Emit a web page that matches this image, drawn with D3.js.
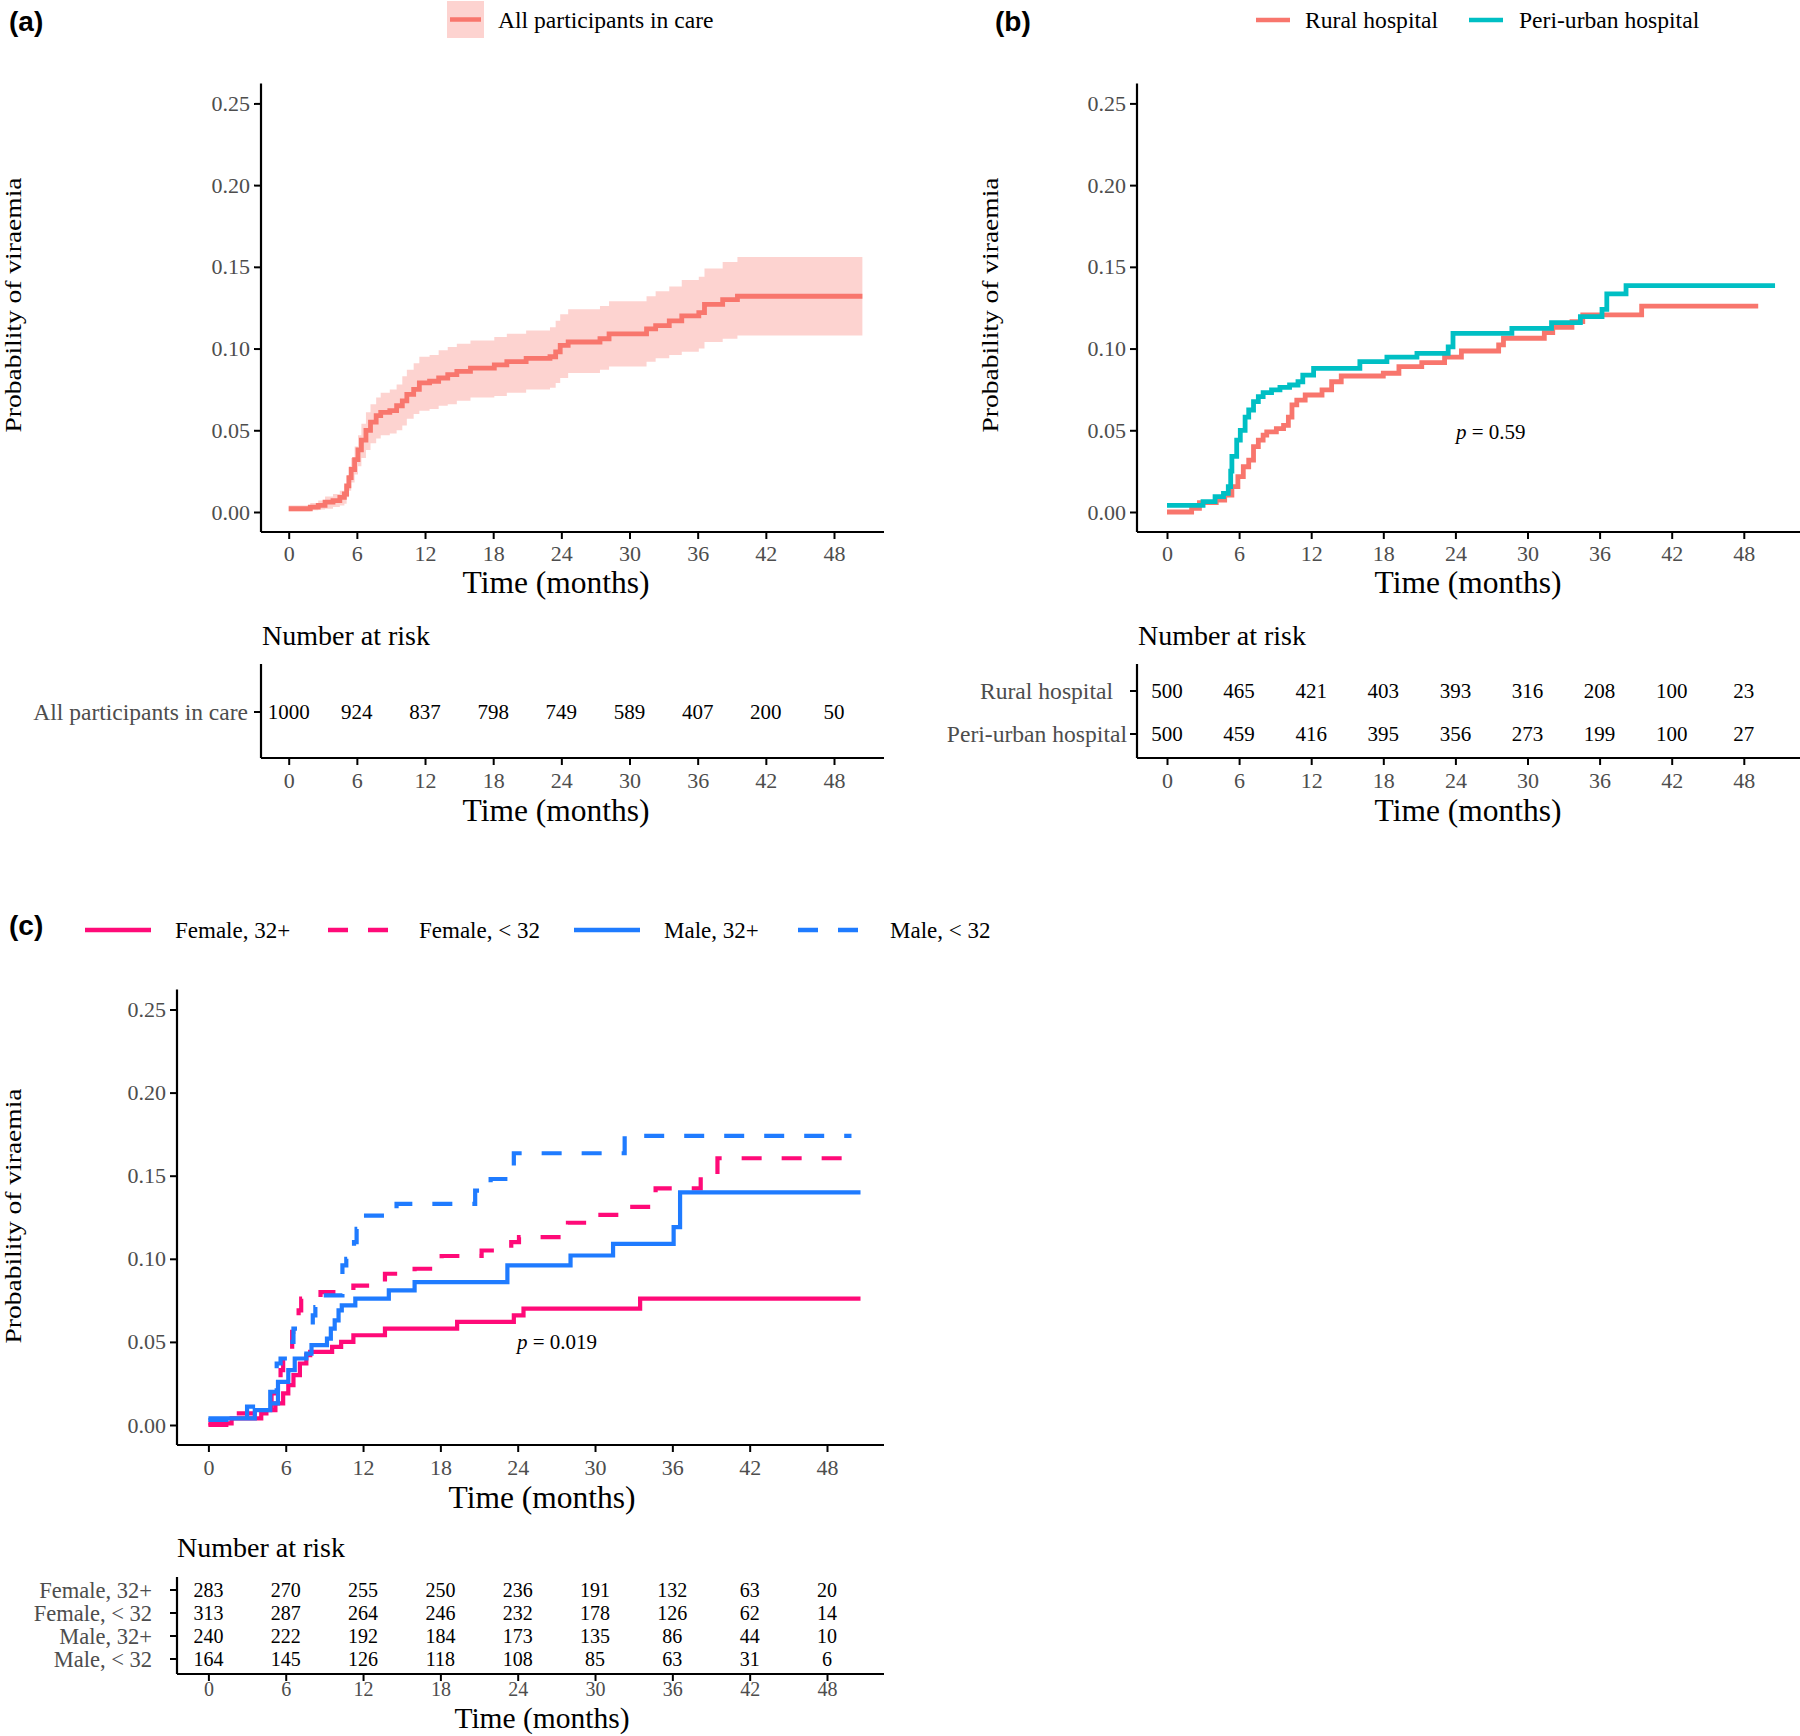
<!DOCTYPE html>
<html><head><meta charset="utf-8">
<script src="https://cdn.jsdelivr.net/npm/d3@7"></script>
<style>
body{margin:0;background:#fff}
svg{display:block}
</style>
</head><body>
<svg id="chart" width="1800" height="1736" font-family="Liberation Serif, Times New Roman, serif"></svg>
<script>
// ---------------- DATA ----------------
const monthTicks = [0, 6, 12, 18, 24, 30, 36, 42, 48];
const probTicks = [0, 0.05, 0.10, 0.15, 0.20, 0.25];

// Panel (a): all participants, KM cumulative incidence with 95% CI
const aTime  = [0,1.9,2.6,3.2,3.9,4.5,4.9,5.1,5.3,5.5,5.8,6.1,6.4,6.8,7.2,7.7,8.1,8.9,9.5,10.0,10.4,11.0,11.5,12.4,13.2,14.0,14.8,16.0,18.1,19.2,20.9,23.0,23.5,23.9,24.6,27.4,28.2,31.5,32.3,33.5,34.6,36.1,36.6,38.2,39.5];
const aEst   = [0.002,0.003,0.004,0.006,0.007,0.009,0.011,0.016,0.021,0.026,0.032,0.038,0.044,0.050,0.055,0.059,0.061,0.062,0.065,0.068,0.072,0.075,0.079,0.080,0.082,0.084,0.086,0.088,0.090,0.092,0.094,0.095,0.098,0.102,0.104,0.106,0.109,0.112,0.114,0.117,0.120,0.122,0.127,0.130,0.132];
const aLower = [0.0005,0.001,0.0015,0.002,0.003,0.004,0.005,0.009,0.013,0.018,0.023,0.028,0.033,0.038,0.042,0.045,0.047,0.048,0.050,0.053,0.057,0.060,0.062,0.063,0.065,0.066,0.068,0.070,0.071,0.073,0.075,0.076,0.079,0.082,0.085,0.087,0.089,0.092,0.094,0.096,0.098,0.100,0.104,0.106,0.108];
const aUpper = [0.004,0.0055,0.007,0.0095,0.011,0.013,0.016,0.022,0.028,0.033,0.040,0.047,0.054,0.061,0.066,0.070,0.073,0.075,0.078,0.083,0.087,0.091,0.095,0.096,0.099,0.101,0.103,0.105,0.107,0.109,0.111,0.113,0.117,0.121,0.124,0.126,0.129,0.132,0.135,0.138,0.142,0.144,0.149,0.153,0.156];
const aEnd = 50.5;
const aLegend = ["All participants in care"];
const aRiskLabels = ["All participants in care"];
const aRisk = [[1000, 924, 837, 798, 749, 589, 407, 200, 50]];

// Panel (b): by hospital
const bLegend = ["Rural hospital", "Peri-urban hospital"];
const bRuralTime = [0,2.05,2.7,4.1,4.8,5.4,5.9,6.35,6.8,7.2,7.6,8.0,8.3,9.1,9.7,10.1,10.4,10.8,11.5,12.9,13.7,14.5,18.0,19.3,21.2,23.1,24.5,27.6,28.0,31.4,32.1,33.7,34.6,39.5];
const bRuralEst  = [0.000,0.0023,0.0057,0.0073,0.0104,0.0155,0.0216,0.0277,0.0318,0.040,0.044,0.047,0.049,0.051,0.053,0.058,0.0655,0.0685,0.0716,0.0747,0.0797,0.0832,0.0849,0.0889,0.0914,0.0947,0.0985,0.1022,0.1063,0.1097,0.113,0.1165,0.1206,0.126];
const bRuralEnd = 49.2;
const bPeriTime = [0,3.0,4.0,4.7,5.1,5.3,5.4,5.8,6.1,6.5,6.8,7.2,7.6,8.0,8.7,9.4,10.2,10.9,11.3,12.2,16.05,18.3,20.8,23.4,23.8,28.7,32.0,34.4,36.2,36.6,38.2];
const bPeriEst  = [0.004,0.0063,0.0094,0.0114,0.0155,0.025,0.034,0.044,0.050,0.058,0.0624,0.0675,0.0706,0.073,0.0747,0.0763,0.0777,0.0797,0.0838,0.0879,0.092,0.0947,0.097,0.101,0.1093,0.1124,0.1159,0.1195,0.124,0.1334,0.1385];
const bPeriEnd = 50.6;
const bP = "0.59";
const bRiskLabels = ["Rural hospital", "Peri-urban hospital"];
const bRisk = [[500, 465, 421, 403, 393, 316, 208, 100, 23],
               [500, 459, 416, 395, 356, 273, 199, 100, 27]];

// Panel (c): by sex and age
const cLegend = ["Female, 32+", "Female, < 32", "Male, 32+", "Male, < 32"];
const cF32pTime = [0,1.8,4.1,4.5,5.2,5.8,6.2,6.6,7.1,7.6,7.9,9.6,10.3,11.25,13.7,19.3,23.7,24.45,33.5];
const cF32pEst  = [0.001,0.004,0.007,0.009,0.013,0.019,0.024,0.030,0.037,0.042,0.044,0.047,0.050,0.054,0.058,0.062,0.066,0.070,0.076];
const cF32pEnd = 50.6;
const cF32mTime = [0,2.2,4.3,4.9,5.6,5.8,6.5,7.0,7.2,8.7,11.25,13.7,16.0,18.1,21.2,23.5,24.1,27.9,29.4,32.1,34.7,38.2,39.5];
const cF32mEst  = [0.000,0.007,0.011,0.019,0.033,0.041,0.056,0.069,0.076,0.080,0.0838,0.091,0.094,0.1017,0.105,0.110,0.113,0.1217,0.1264,0.1313,0.1424,0.150,0.1605];
const cF32mEnd = 49.4;
const cM32pTime = [0,3.6,4.8,5.4,6.2,6.7,7.6,8.0,9.2,9.5,9.8,10.1,10.35,11.4,14.0,16.0,23.2,28.1,31.4,36.1,36.6];
const cM32pEst  = [0.004,0.009,0.013,0.026,0.033,0.040,0.043,0.048,0.052,0.058,0.063,0.069,0.072,0.076,0.081,0.086,0.096,0.102,0.109,0.119,0.140];
const cM32pEnd = 50.6;
const cM32mTime = [0,3.0,4.8,5.3,5.6,6.2,6.6,8.1,8.3,8.8,10.4,10.7,11.3,11.5,11.7,14.6,20.7,21.9,23.7,32.3];
const cM32mEst  = [0.003,0.011,0.020,0.037,0.040,0.050,0.058,0.066,0.071,0.078,0.096,0.100,0.110,0.118,0.126,0.133,0.141,0.148,0.1635,0.174];
const cM32mEnd = 49.9;
const cP = "0.019";
const cRiskLabels = ["Female, 32+", "Female, < 32", "Male, 32+", "Male, < 32"];
const cRisk = [[283, 270, 255, 250, 236, 191, 132, 63, 20],
               [313, 287, 264, 246, 232, 178, 126, 62, 14],
               [240, 222, 192, 184, 173, 135, 86, 44, 10],
               [164, 145, 126, 118, 108, 85, 63, 31, 6]];

// ---------------- DRAWING ----------------
const RED = "#F8766D", TEAL = "#00BFC4", PINK = "#FF0A78", BLUE = "#1F7BFF";
const GREY = "#4D4D4D";
const SERIF = "Liberation Serif, Times New Roman, serif";
const svg = d3.select("#chart");

function steps(times, vals, end) {
  const pts = times.map((t, i) => [t, vals[i]]);
  pts.push([end, vals[vals.length - 1]]);
  return pts;
}

function bottomAxis(g, x, yPos, x0, x1, pad, fs) {
  const ax = g.append("g").attr("transform", `translate(0,${yPos})`)
    .call(d3.axisBottom(x).tickValues(monthTicks).tickSize(7).tickPadding(pad).tickFormat(d3.format("d")));
  ax.attr("font-family", SERIF).attr("font-size", fs);
  ax.select(".domain").remove();
  ax.selectAll(".tick line").attr("stroke", "#000").attr("stroke-width", 2);
  ax.selectAll(".tick text").attr("fill", GREY);
  g.append("line").attr("x1", x0).attr("x2", x1).attr("y1", yPos).attr("y2", yPos)
    .attr("stroke", "#000").attr("stroke-width", 2.2);
}

function leftAxis(g, y, xPos, y0, y1) {
  const ax = g.append("g").attr("transform", `translate(${xPos},0)`)
    .call(d3.axisLeft(y).tickValues(probTicks).tickSize(7).tickPadding(4).tickFormat(d3.format(".2f")));
  ax.attr("font-family", SERIF).attr("font-size", 22);
  ax.select(".domain").remove();
  ax.selectAll(".tick line").attr("stroke", "#000").attr("stroke-width", 2);
  ax.selectAll(".tick text").attr("fill", GREY);
  g.append("line").attr("x1", xPos).attr("x2", xPos).attr("y1", y0).attr("y2", y1)
    .attr("stroke", "#000").attr("stroke-width", 2.2);
}

function yTitle(g, cx, cy) {
  g.append("text").attr("transform", `translate(${cx},${cy}) rotate(-90)`)
    .attr("text-anchor", "middle").attr("font-size", 23).attr("fill", "#000")
    .attr("textLength", 255).attr("lengthAdjust", "spacingAndGlyphs")
    .text("Probability of viraemia");
}
function xTitle(g, cx, by, fs) {
  g.append("text").attr("x", cx).attr("y", by).attr("text-anchor", "middle")
    .attr("font-size", fs || 31.5).attr("fill", "#000").text("Time (months)");
}
function panelTag(g, x, by, s) {
  g.append("text").attr("x", x).attr("y", by)
    .style("font-family", "'Liberation Sans', Arial, sans-serif")
    .style("font-weight", "bold").style("font-size", "28px").attr("fill", "#000").text(s);
}
function pLabel(g, x, by, val) {
  const t = g.append("text").attr("x", x).attr("y", by).attr("font-size", 21).attr("fill", "#000");
  t.append("tspan").attr("font-style", "italic").text("p");
  t.append("tspan").text(" = " + val);
}
function drawStep(g, x, y, pts, color, width, dash) {
  const line = d3.line().x(d => x(d[0])).y(d => y(d[1])).curve(d3.curveStepAfter);
  const p = g.append("path").datum(pts).attr("d", line).attr("fill", "none")
    .attr("stroke", color).attr("stroke-width", width).attr("stroke-linejoin", "miter");
  if (dash) p.attr("stroke-dasharray", dash);
}
function riskTable(g, x, rowsY, labels, data, labelRight, axisX, top, bottom, fs, labelFs, labelShift) {
  g.append("line").attr("x1", axisX).attr("x2", axisX).attr("y1", top).attr("y2", bottom)
    .attr("stroke", "#000").attr("stroke-width", 2.2);
  labels.forEach((lab, i) => {
    g.append("line").attr("x1", axisX - 7).attr("x2", axisX).attr("y1", rowsY[i]).attr("y2", rowsY[i])
      .attr("stroke", "#000").attr("stroke-width", 2);
    g.append("text").attr("x", labelRight - (labelShift ? labelShift[i] : 0)).attr("y", rowsY[i]).attr("dy", "0.35em")
      .attr("text-anchor", "end").attr("font-size", labelFs).attr("fill", GREY).text(lab);
    data[i].forEach((v, j) => {
      g.append("text").attr("x", x(monthTicks[j])).attr("y", rowsY[i]).attr("dy", "0.35em")
        .attr("text-anchor", "middle").attr("font-size", fs).attr("fill", "#000").text(v);
    });
  });
}

// ===== Panel (a) =====
{
  const g = svg.append("g");
  const x = d3.scaleLinear().domain([0, 48]).range([288.7, 834]);
  const y = d3.scaleLinear().domain([0, 0.25]).range([512, 103.4]);
  panelTag(g, 9, 31, "(a)");
  // legend
  g.append("rect").attr("x", 447).attr("y", 1).attr("width", 37).attr("height", 37)
    .attr("fill", RED).attr("fill-opacity", 0.32);
  g.append("line").attr("x1", 450).attr("x2", 481).attr("y1", 19.5).attr("y2", 19.5)
    .attr("stroke", RED).attr("stroke-width", 4.5);
  g.append("text").attr("x", 498).attr("y", 28).attr("font-size", 23.6).text(aLegend[0]);

  const band = aTime.map((t, i) => [t, aLower[i], aUpper[i]]);
  band.push([aEnd, aLower[aLower.length - 1], aUpper[aUpper.length - 1]]);
  g.append("path").datum(band)
    .attr("d", d3.area().x(d => x(d[0])).y0(d => y(d[1])).y1(d => y(d[2])).curve(d3.curveStepAfter))
    .attr("fill", RED).attr("fill-opacity", 0.32);
  drawStep(g, x, y, steps(aTime, aEst, aEnd), RED, 4.8);

  leftAxis(g, y, 261, 83.5, 532);
  bottomAxis(g, x, 532, 261, 884, 6, 22);
  yTitle(g, 21, 305);
  xTitle(g, 556, 593);

  g.append("text").attr("x", 262).attr("y", 645).attr("font-size", 28).text("Number at risk");
  riskTable(g, x, [712], aRiskLabels, aRisk, 248, 261, 664, 758, 21, 23.5);
  bottomAxis(g, x, 758, 261, 884, 7, 22);
  xTitle(g, 556, 821);
}

// ===== Panel (b) =====
{
  const g = svg.append("g");
  const x = d3.scaleLinear().domain([0, 48]).range([1167, 1743.8]);
  const y = d3.scaleLinear().domain([0, 0.25]).range([512, 103.4]);
  panelTag(g, 995, 31, "(b)");
  g.append("line").attr("x1", 1256).attr("x2", 1290).attr("y1", 20).attr("y2", 20)
    .attr("stroke", RED).attr("stroke-width", 4.5);
  g.append("text").attr("x", 1305).attr("y", 28).attr("font-size", 23.6).text(bLegend[0]);
  g.append("line").attr("x1", 1469).attr("x2", 1503).attr("y1", 20).attr("y2", 20)
    .attr("stroke", TEAL).attr("stroke-width", 4.5);
  g.append("text").attr("x", 1519).attr("y", 28).attr("font-size", 23.6).text(bLegend[1]);

  drawStep(g, x, y, steps(bRuralTime, bRuralEst, bRuralEnd), RED, 4.8);
  drawStep(g, x, y, steps(bPeriTime, bPeriEst, bPeriEnd), TEAL, 4.8);
  pLabel(g, 1456, 439, bP);

  leftAxis(g, y, 1137, 83.5, 532);
  bottomAxis(g, x, 532, 1137, 1800, 6, 22);
  yTitle(g, 998, 305);
  xTitle(g, 1468, 593);

  g.append("text").attr("x", 1138).attr("y", 645).attr("font-size", 28).text("Number at risk");
  riskTable(g, x, [691, 734], bRiskLabels, bRisk, 1127, 1137, 664, 758, 21, 23.6, [14, 0]);
  bottomAxis(g, x, 758, 1137, 1800, 7, 22);
  xTitle(g, 1468, 821);
}

// ===== Panel (c) =====
{
  const g = svg.append("g");
  const x = d3.scaleLinear().domain([0, 48]).range([208.4, 827]);
  const y = d3.scaleLinear().domain([0, 0.25]).range([1425, 1009.5]);
  panelTag(g, 9, 935, "(c)");
  const keys = [
    {x: 85, tx: 175, c: PINK, dash: null},
    {x: 328, tx: 419, c: PINK, dash: "20 20"},
    {x: 574, tx: 664, c: BLUE, dash: null},
    {x: 798, tx: 890, c: BLUE, dash: "20 20"}
  ];
  keys.forEach((k, i) => {
    const l = g.append("line").attr("x1", k.x).attr("x2", k.x + 66).attr("y1", 930).attr("y2", 930)
      .attr("stroke", k.c).attr("stroke-width", 4.5);
    if (k.dash) l.attr("stroke-dasharray", k.dash);
    g.append("text").attr("x", k.tx).attr("y", 938).attr("font-size", 23).text(cLegend[i]);
  });

  drawStep(g, x, y, steps(cF32pTime, cF32pEst, cF32pEnd), PINK, 4.2);
  drawStep(g, x, y, steps(cF32mTime, cF32mEst, cF32mEnd), PINK, 4.2, "20 20");
  drawStep(g, x, y, steps(cM32pTime, cM32pEst, cM32pEnd), BLUE, 4.2);
  drawStep(g, x, y, steps(cM32mTime, cM32mEst, cM32mEnd), BLUE, 4.2, "20 20");
  pLabel(g, 517, 1349, cP);

  leftAxis(g, y, 177, 989.5, 1445);
  bottomAxis(g, x, 1445, 177, 884, 7, 22);
  yTitle(g, 21, 1216);
  xTitle(g, 542, 1508);

  g.append("text").attr("x", 177).attr("y", 1557).attr("font-size", 28).text("Number at risk");
  riskTable(g, x, [1590, 1613, 1636, 1659], cRiskLabels, cRisk, 152, 177, 1577, 1674, 20, 22.5);
  bottomAxis(g, x, 1674, 177, 884, 1, 20);
  xTitle(g, 542, 1728, 29.5);
}
</script>
</body></html>
